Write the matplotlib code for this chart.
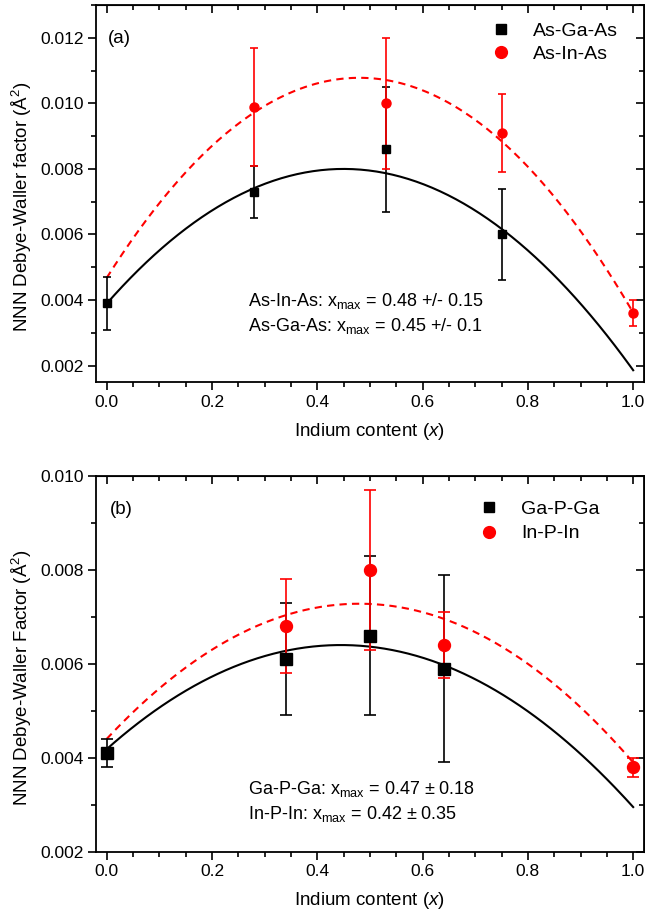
import numpy as np
import matplotlib
matplotlib.use('Agg')
import matplotlib.pyplot as plt
from matplotlib.ticker import MultipleLocator, FormatStrFormatter
from matplotlib.lines import Line2D

plt.rcParams['font.family'] = ['Liberation Sans', 'DejaVu Sans']
plt.rcParams['mathtext.fontset'] = 'custom'
plt.rcParams['mathtext.rm'] = 'Liberation Sans'
plt.rcParams['mathtext.it'] = 'Liberation Sans:italic'

# panel (a) data
x_ga_a = [0.0, 0.28, 0.53, 0.75]
y_ga_a = [0.0039, 0.0073, 0.0086, 0.0060]
e_ga_a = [0.0008, 0.0008, 0.0019, 0.0014]
x_in_a = [0.28, 0.53, 0.75, 1.0]
y_in_a = [0.0099, 0.0100, 0.0091, 0.0036]
e_in_a = [0.0018, 0.0020, 0.0012, 0.0004]
# quadratic fits: (curvature, x_max, y_max)
fit_ga_a = (-0.0203, 0.45, 0.0080)
fit_in_a = (-0.0265, 0.48, 0.01078)

# panel (b) data
x_ga_b = [0.0, 0.34, 0.50, 0.64]
y_ga_b = [0.0041, 0.0061, 0.0066, 0.0059]
e_ga_b = [0.0003, 0.0012, 0.0017, 0.0020]
x_in_b = [0.34, 0.50, 0.64, 1.0]
y_in_b = [0.0068, 0.0080, 0.0064, 0.0038]
e_in_b = [0.0010, 0.0017, 0.0007, 0.0002]
fit_ga_b = (-0.0112, 0.445, 0.0064)
fit_in_b = (-0.0125, 0.48, 0.00728)

RED = '#ff0000'


def parabola(fit, x):
    a, xm, ym = fit
    return np.polyval([a, -2 * a * xm, a * xm ** 2 + ym], x)


def style_axes(ax, ylim):
    ax.set_xlim(-0.02, 1.02)
    ax.set_ylim(*ylim)
    ax.xaxis.set_major_locator(MultipleLocator(0.2))
    ax.xaxis.set_minor_locator(MultipleLocator(0.05))
    ax.yaxis.set_major_locator(MultipleLocator(0.002))
    ax.yaxis.set_minor_locator(MultipleLocator(0.001))
    ax.xaxis.set_major_formatter(FormatStrFormatter('%.1f'))
    ax.yaxis.set_major_formatter(FormatStrFormatter('%.3f'))
    ax.tick_params(which='major', direction='out', length=6, width=1.2,
                   labelsize=12.5, pad=3)
    ax.tick_params(which='minor', direction='out', length=3.5, width=1.2)
    for s in ax.spines.values():
        s.set_linewidth(1.3)
    top = ax.secondary_xaxis('top')
    top.xaxis.set_major_locator(MultipleLocator(0.2))
    top.xaxis.set_minor_locator(MultipleLocator(0.05))
    top.tick_params(which='major', direction='in', length=6, width=1.2, labeltop=False)
    top.tick_params(which='minor', direction='in', length=3.5, width=1.2)
    right = ax.secondary_yaxis('right')
    right.yaxis.set_major_locator(MultipleLocator(0.002))
    right.yaxis.set_minor_locator(MultipleLocator(0.001))
    right.tick_params(which='major', direction='in', length=6, width=1.2, labelright=False)
    right.tick_params(which='minor', direction='in', length=3.5, width=1.2)
    ax.set_xlabel('Indium content $\\mathit{(x)}$', fontsize=13.5)
    ax.xaxis.set_label_coords(0.5, -0.103)


fig = plt.figure(figsize=(6.45, 9.15), dpi=100)
ax1 = fig.add_axes([0.149, 0.5825, 0.849, 0.412])
ax2 = fig.add_axes([0.149, 0.0692, 0.849, 0.4106])

xs = np.linspace(0, 1.0, 200)

# ---- panel (a)
ax1.plot(xs, parabola(fit_ga_a, xs), color='k', lw=1.5)
ax1.plot(xs, parabola(fit_in_a, xs), color=RED, lw=1.5, dashes=(3.5, 2.5))
ax1.errorbar(x_ga_a, y_ga_a, yerr=e_ga_a, fmt='s', color='k', ms=6,
             capsize=3, elinewidth=1.2, capthick=1.2)
ax1.errorbar(x_in_a, y_in_a, yerr=e_in_a, fmt='o', color=RED, ms=6.5,
             capsize=3, elinewidth=1.2, capthick=1.2)
style_axes(ax1, (0.0015, 0.013))
ax1.set_ylabel('NNN Debye-Waller factor (Å$^2$)', fontsize=13.5)
ax1.yaxis.set_label_coords(-0.113, 0.464)
ax1.text(0.022, 0.91, '(a)', transform=ax1.transAxes, fontsize=13.5, va='center')
ax1.text(0.268, 0.00382, 'As-In-As: x$_{\\mathrm{max}}$ = 0.48 +/- 0.15', fontsize=13, va='baseline')
ax1.text(0.268, 0.00306, 'As-Ga-As: x$_{\\mathrm{max}}$ = 0.45 +/- 0.1', fontsize=13, va='baseline')
h1 = [Line2D([], [], marker='s', color='k', ls='none', ms=7.5),
      Line2D([], [], marker='o', color=RED, ls='none', ms=8.5)]
ax1.legend(h1, ['As-Ga-As', 'As-In-As'], loc='upper left', bbox_to_anchor=(0.721, 0.955),
           frameon=False, fontsize=14, handlelength=1.0, handletextpad=1.15,
           labelspacing=0.3, borderpad=0, borderaxespad=0)

# ---- panel (b)
ax2.plot(xs, parabola(fit_ga_b, xs), color='k', lw=1.5)
ax2.plot(xs, parabola(fit_in_b, xs), color=RED, lw=1.5, dashes=(3.5, 2.5))
ax2.errorbar(x_ga_b, y_ga_b, yerr=e_ga_b, fmt='s', color='k', ms=8,
             capsize=4.3, elinewidth=1.2, capthick=1.2)
ax2.errorbar(x_in_b, y_in_b, yerr=e_in_b, fmt='o', color=RED, ms=8.6,
             capsize=4.3, elinewidth=1.2, capthick=1.2)
style_axes(ax2, (0.002, 0.010))
ax2.set_ylabel('NNN Debye-Waller Factor (Å$^2$)', fontsize=13.5)
ax2.yaxis.set_label_coords(-0.113, 0.464)
ax2.text(0.026, 0.911, '(b)', transform=ax2.transAxes, fontsize=13.5, va='center')
ax2.text(0.268, 0.00323, 'Ga-P-Ga: x$_{\\mathrm{max}}$ = 0.47 ± 0.18', fontsize=13, va='baseline')
ax2.text(0.268, 0.0027, 'In-P-In: x$_{\\mathrm{max}}$ = 0.42 ± 0.35', fontsize=13, va='baseline')
h2 = [Line2D([], [], marker='s', color='k', ls='none', ms=7.5),
      Line2D([], [], marker='o', color=RED, ls='none', ms=8.5)]
ax2.legend(h2, ['Ga-P-Ga', 'In-P-In'], loc='upper left', bbox_to_anchor=(0.70, 0.935),
           frameon=False, fontsize=14, handlelength=1.0, handletextpad=1.15,
           labelspacing=0.35, borderpad=0, borderaxespad=0)

fig.savefig('out.png', dpi=100)
